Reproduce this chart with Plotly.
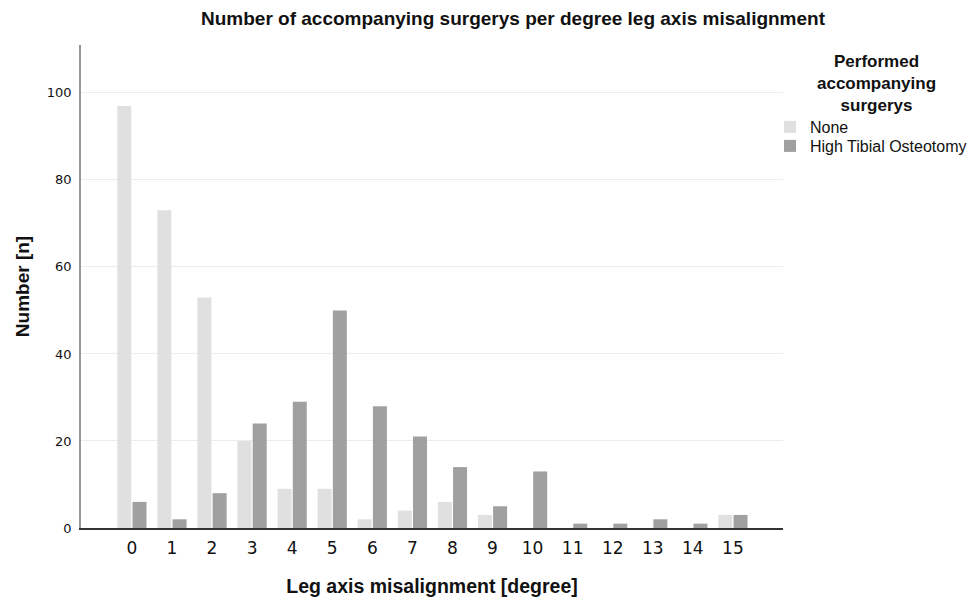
import plotly.graph_objects as go

degrees = list(range(16))
none_vals = [97, 73, 53, 20, 9, 9, 2, 4, 6, 3, 0, 0, 0, 0, 0, 3]
hto_vals = [6, 2, 8, 24, 29, 50, 28, 21, 14, 5, 13, 1, 1, 2, 1, 3]
series_names = ["None", "High Tibial Osteotomy"]
y_ticks = [0, 20, 40, 60, 80, 100]

# page has an 8px body margin; figure coordinates = screen - 8
W, H = 972, 589
L, T, PR, PB = 73, 37, 775, 520  # plot area in figure px

FONT = "Liberation Sans, Arial, Helvetica, sans-serif"

fig = go.Figure()
fig.add_trace(go.Bar(x=degrees, y=none_vals, name=series_names[0], legend="legend",
                     showlegend=True,
                     marker=dict(color="#e0e0e0", line=dict(width=0))))
fig.add_trace(go.Bar(x=degrees, y=hto_vals, name=series_names[1], legend="legend2",
                     showlegend=True,
                     marker=dict(color="#a0a0a0", line=dict(width=0))))

legend_common = dict(xref="container", yref="container", xanchor="left", yanchor="top",
                     font=dict(size=16, family=FONT, color="#111"),
                     itemwidth=30, bgcolor="rgba(0,0,0,0)", visible=True)

fig.update_layout(
    width=W, height=H, showlegend=True,
    margin=dict(l=L, r=W - PR, t=T, b=H - PB, autoexpand=False),
    paper_bgcolor="white", plot_bgcolor="white",
    barmode="group", bargap=0.24, bargroupgap=0.08,
    font=dict(family=FONT, color="#111"),
    title=dict(text="<b>Number of accompanying surgerys per degree leg axis misalignment</b>",
               x=505 / W, xref="container", xanchor="center",
               y=1 - 10 / H, yref="container", yanchor="middle",
               font=dict(size=19, family=FONT, color="#111")),
    xaxis=dict(range=[-1.27, 16.25], tickmode="array", tickvals=degrees,
               ticktext=[str(d) for d in degrees], showgrid=False, automargin=False,
               showline=True, linecolor="#333", linewidth=1.5, ticks="",
               ticklabelstandoff=4,
               tickfont=dict(size=17, family="DejaVu Sans, sans-serif", color="#111"),
               title=dict(text="<b>Leg axis misalignment [degree]</b>", standoff=26,
                          font=dict(size=19.5, family=FONT, color="#111")),
               zeroline=False),
    yaxis=dict(range=[0, 111], tickmode="array", tickvals=y_ticks, automargin=False,
               showgrid=True, gridcolor="#ececec", gridwidth=1,
               showline=True, linecolor="#999", linewidth=1.5, ticks="",
               ticklabelstandoff=5,
               tickfont=dict(size=13, family="DejaVu Sans, sans-serif", color="#111"),
               title=dict(text="<b>Number [n]</b>", standoff=12,
                          font=dict(size=19, family=FONT, color="#111")),
               zeroline=False),
    legend=dict(x=(770 - 8) / W, y=1 - (110 - 8) / H, **legend_common),
    legend2=dict(x=(770 - 8) / W, y=1 - (129 - 8) / H, **legend_common),
    annotations=[dict(text="<b>Performed<br>accompanying<br>surgerys</b>",
                      xref="paper", yref="paper",
                      x=(868 - L) / (PR - L), y=(PB - 75) / (PB - T),
                      xanchor="center", yanchor="middle", align="center", showarrow=False,
                      font=dict(size=17, family=FONT, color="#111"))],
)

fig.write_html("out.html")
